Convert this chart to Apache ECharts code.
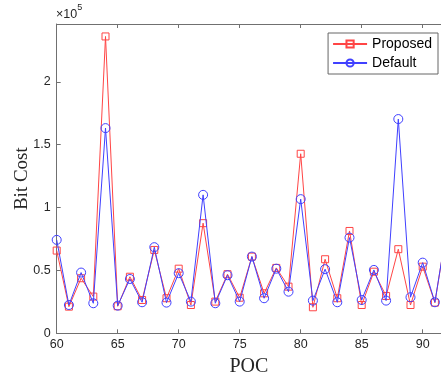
<!DOCTYPE html>
<html>
<head>
<meta charset="utf-8">
<script src="https://cdn.jsdelivr.net/npm/echarts@6/dist/echarts.min.js"></script>
<style>html,body{margin:0;padding:0;background:#fff;}#c{width:441px;height:372px;}</style>
</head>
<body>
<div id="c"></div>
<script>
const poc = [60,61,62,63,64,65,66,67,68,69,70,71,72,73,74,75,76,77,78,79,80,81,82,83,84,85,86,87,88,89,90,91,92];
const proposed = [65800,21200,43800,29200,236100,21500,45000,26500,66300,27900,51400,22500,87600,25200,47000,28300,61000,31800,52000,37100,142800,20700,58900,27900,81400,22500,49000,29700,66900,22500,53000,24400,85000];
const defaultCost = [74300,22500,48300,23900,163200,22000,43200,24700,68500,24400,47800,25200,110100,23900,46200,25200,61000,27900,51400,33100,106700,26000,51000,24700,76100,26500,50400,26000,170400,28700,56200,24700,85000];
const yTicks = [0,50000,100000,150000,200000];

const axisColor = '#707070';
const labelColor = '#262626';
const sans = '"Liberation Sans", Arial, sans-serif';
const serif = '"Liberation Serif", "Times New Roman", serif';
const red = '#ff4545';
const blue = '#4040ff';

const chart = echarts.init(document.getElementById('c'), null, {renderer:'canvas'});
chart.setOption({
  animation: false,
  backgroundColor: '#fff',
  grid: {left: 56.7, top: 24, right: 0, bottom: 38.7, containLabel: false, outerBoundsMode: 'none'},
  xAxis: [{
    type: 'value', min: 60, max: 91.5, interval: 5,
    axisLine: {show: true, lineStyle: {color: axisColor, width: 1}},
    axisTick: {show: true, inside: true, length: 4, lineStyle: {color: axisColor}},
    axisLabel: {color: labelColor, fontFamily: sans, fontSize: 12.5, margin: 5, showMaxLabel: false},
    splitLine: {show: false},
    name: 'POC', nameLocation: 'middle', nameGap: 23, nameMoveOverlap: false,
    nameTextStyle: {fontFamily: serif, fontSize: 20, color: labelColor}
  }, {
    type: 'value', position: 'top', min: 60, max: 91.5, interval: 5,
    axisLine: {show: true, lineStyle: {color: axisColor, width: 1}},
    axisTick: {show: true, inside: true, length: 4, lineStyle: {color: axisColor}},
    axisLabel: {show: false}, splitLine: {show: false}
  }],
  yAxis: [{
    type: 'value', min: 0, max: 246000, interval: 50000,
    axisLine: {show: true, lineStyle: {color: axisColor, width: 1}},
    axisTick: {show: true, inside: true, length: 4, lineStyle: {color: axisColor}},
    axisLabel: {color: labelColor, fontFamily: sans, fontSize: 12.5, margin: 6, showMaxLabel: false,
      formatter: v => (yTicks.indexOf(v) >= 0 ? String(v / 100000) : '')},
    splitLine: {show: false},
    name: 'Bit Cost', nameLocation: 'middle', nameGap: 25, nameRotate: 90, nameMoveOverlap: false,
    nameTextStyle: {fontFamily: serif, fontSize: 19, color: labelColor}
  }],
  legend: {
    orient: 'vertical', right: 3, top: 33,
    backgroundColor: '#fff', borderColor: '#666', borderWidth: 1,
    padding: [4, 6, 4, 4], itemGap: 5, itemWidth: 34, itemHeight: 9,
    textStyle: {fontFamily: sans, fontSize: 14, color: '#000'},
    data: ['Proposed', 'Default']
  },
  graphic: [{
    type: 'text', left: 56, top: 3,
    style: {
      text: '{a|×10}{b|5}',
      rich: {
        a: {fontFamily: sans, fontSize: 12.5, fill: labelColor, verticalAlign: 'bottom', lineHeight: 18},
        b: {fontFamily: sans, fontSize: 9, fill: labelColor, verticalAlign: 'top', lineHeight: 12, padding: [0,0,8,0]}
      }
    }
  }],
  series: [{
    name: 'Proposed', type: 'line',
    data: poc.map((p, i) => [p, proposed[i]]),
    symbol: 'rect', symbolSize: 7,
    itemStyle: {color: 'rgba(0,0,0,0)', borderColor: red, borderWidth: 1},
    lineStyle: {color: red, width: 1},
    clip: true, z: 2
  }, {
    name: 'Default', type: 'line',
    data: poc.map((p, i) => [p, defaultCost[i]]),
    symbol: 'circle', symbolSize: 9,
    itemStyle: {color: 'rgba(0,0,0,0)', borderColor: blue, borderWidth: 1},
    lineStyle: {color: blue, width: 1},
    clip: true, z: 3
  }]
});
</script>
</body>
</html>
